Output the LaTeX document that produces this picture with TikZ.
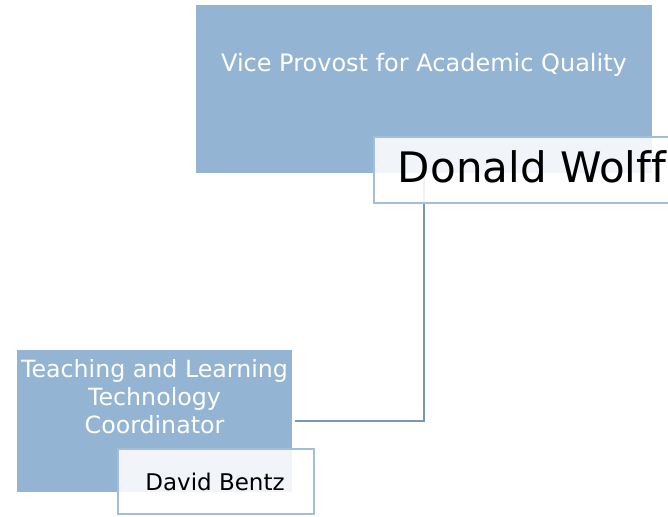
\documentclass[tikz,border=0pt]{standalone}
\usepackage{fontspec}
\setmainfont[Ligatures={NoCommon}]{DejaVu Sans}
\definecolor{roleblue}{RGB}{148,180,211}
\definecolor{nameborder}{RGB}{164,190,218}
\definecolor{connblue}{RGB}{122,150,179}
\tikzset{
  rolebox/.style={rectangle, fill=roleblue, draw=none, inner sep=0pt, anchor=north west},
  namebox/.style={rectangle, fill=white, fill opacity=0.88, draw=nameborder, line width=2.2pt, inner sep=0pt, anchor=north west},
  roletext/.style={text=white, inner sep=0pt, align=center},
  nametext/.style={text=black, inner sep=0pt},
  conn/.style={draw=connblue, line width=2pt}
}
\begin{document}
\begin{tikzpicture}[x=1pt,y=-1pt]
\useasboundingbox (0,0) rectangle (668,516);
% boxes (role)
\node[rolebox, minimum width=456pt, minimum height=168pt] (vp) at (196,5) {};
\node[rolebox, minimum width=275pt, minimum height=142pt] (tl) at (17,350) {};
% connector
\coordinate (j) at (424,421);
\coordinate (dwc) at (424,169);
\draw[conn] (dwc) -- (j) -- ([xshift=3pt]tl.east |- j);
% name boxes
\node[namebox, minimum width=318pt, minimum height=66pt] (dw) at (373,136) {};
\node[namebox, minimum width=196pt, minimum height=65pt] (db) at (117,448) {};
% texts
\node[roletext, font=\fontsize{24}{29}\selectfont, anchor=base] (vpt) at (424,72) {Vice Provost for Academic Quality};
\node[roletext, font=\fontsize{23.7}{28}\selectfont, anchor=north] (tlt) at (154.5,359) {Teaching and Learning\\Technology\\Coordinator};
\node[nametext, font=\fontsize{42}{50}\selectfont, anchor=base] (dwt) at (532,182) {Donald Wolff};
\node[nametext, font=\fontsize{23}{28}\selectfont, anchor=base] (dbt) at (215,490) {David Bentz};
\end{tikzpicture}
\end{document}
